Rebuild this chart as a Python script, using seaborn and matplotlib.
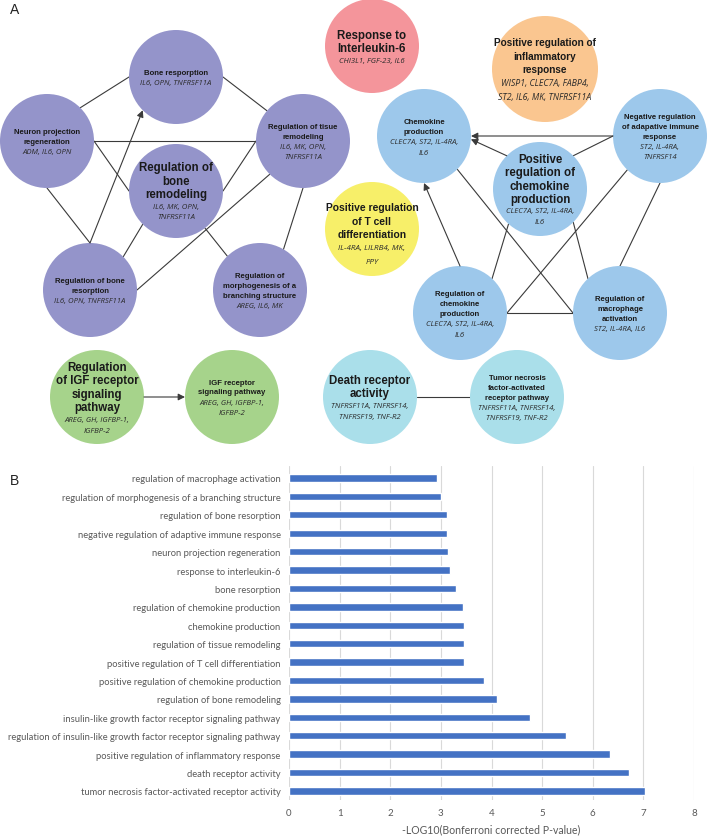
import numpy as np
import pandas as pd
import matplotlib
matplotlib.use("Agg")
import matplotlib.pyplot as plt
from matplotlib.patches import Circle, FancyArrowPatch
import seaborn as sns

# ---------------- data: panel B ----------------
terms = [
    "regulation of macrophage activation",
    "regulation of morphogenesis of a branching structure",
    "regulation of bone resorption",
    "negative regulation of adaptive immune response",
    "neuron projection regeneration",
    "response to interleukin-6",
    "bone resorption",
    "regulation of chemokine production",
    "chemokine production",
    "regulation of tissue remodeling",
    "positive regulation of T cell differentiation",
    "positive regulation of chemokine production",
    "regulation of bone remodeling",
    "insulin-like growth factor receptor signaling pathway",
    "regulation of insulin-like growth factor receptor signaling pathway",
    "positive regulation of inflammatory response",
    "death receptor activity",
    "tumor necrosis factor-activated receptor activity",
]
neg_log10_p = [2.92, 3.00, 3.13, 3.13, 3.15, 3.19, 3.29, 3.43, 3.45, 3.46, 3.46,
               3.85, 4.10, 4.77, 5.47, 6.35, 6.72, 7.03]
x_ticks = [0, 1, 2, 3, 4, 5, 6, 7, 8]
x_label = "-LOG10(Bonferroni corrected P-value)"

# ---------------- data: panel A network ----------------
node_ids = ["boneres", "neuron", "tissue", "boneremod", "regbr", "morph",
            "il6", "inflam", "chemprod", "negadapt", "posreg", "tcell",
            "regchem", "macro", "regigf", "igf", "death", "tnf"]
node_titles = [
    ["Bone resporption"],
    ["Neuron projection", "regeneration"],
    ["Regulation of tisue", "remodeling"],
    ["Regulation of", "bone", "remodeling"],
    ["Regulation of bone", "resorption"],
    ["Regulation of", "morphogenesis of a", "branching structure"],
    ["Response to", "Interleukin-6"],
    ["Positive regulation of", "inflammatory", "response"],
    ["Chemokine", "production"],
    ["Negative regulation", "of adapative immune", "response"],
    ["Positive", "regulation of", "chemokine", "production"],
    ["Positive regulation", "of T cell", "differentiation"],
    ["Regulation of", "chemokine", "production"],
    ["Regulation of", "macrophage", "activation"],
    ["Regulation", "of IGF receptor", "signaling", "pathway"],
    ["IGF receptor", "signaling pathway"],
    ["Death receptor", "activity"],
    ["Tumor necrosis", "factor-activated", "receptor pathway"],
]
node_genes = [
    ["IL6, OPN, TNFRSF11A"],
    ["ADM, IL6, OPN"],
    ["IL6, MK, OPN,", "TNFRSF11A"],
    ["IL6, MK, OPN,", "TNFRSF11A"],
    ["IL6, OPN, TNFRSF11A"],
    ["AREG, IL6, MK"],
    ["CHI3L1, FGF-23, IL6"],
    ["WISP1, CLEC7A, FABP4,", "ST2, IL6, MK, TNFRSF11A"],
    ["CLEC7A, ST2, IL-4RA,", "IL6"],
    ["ST2, IL-4RA,", "TNFRSF14"],
    ["CLEC7A, ST2, IL-4RA,", "IL6"],
    ["IL-4RA, LILRB4, MK,", "PPY"],
    ["CLEC7A, ST2, IL-4RA,", "IL6"],
    ["ST2, IL-4RA, IL6"],
    ["AREG, GH, IGFBP-1,", "IGFBP-2"],
    ["AREG, GH, IGFBP-1,", "IGFBP-2"],
    ["TNFRSF11A, TNFRSF14,", "TNFRSF19, TNF-R2"],
    ["TNFRSF11A, TNFRSF14,", "TNFRSF19, TNF-R2"],
]
# edges: (source, target, directed)
edges = [
    ("neuron", "boneres", False),
    ("boneres", "tissue", False),
    ("neuron", "tissue", False),
    ("neuron", "boneremod", False),
    ("neuron", "regbr", False),
    ("regbr", "boneres", True),
    ("regbr", "boneremod", False),
    ("regbr", "tissue", False),
    ("boneremod", "tissue", False),
    ("boneremod", "morph", False),
    ("tissue", "morph", False),
    ("negadapt", "chemprod", True),
    ("posreg", "chemprod", True),
    ("posreg", "negadapt", False),
    ("regchem", "chemprod", True),
    ("chemprod", "macro", False),
    ("posreg", "regchem", False),
    ("posreg", "macro", False),
    ("negadapt", "regchem", False),
    ("negadapt", "macro", False),
    ("regchem", "macro", False),
    ("regigf", "igf", True),
    ("death", "tnf", False),
]

# ---------------- layout / style (pixel coordinates) ----------------
W, H = 709, 837
PURPLE, RED, ORANGE, BLUE = "#9494CA", "#F4959B", "#FAC690", "#9DC8EB"
YELLOW, GREEN, CYAN = "#F7EF69", "#A6D38B", "#AADFEA"
# cx, cy, r, colour, title size, title line h, gene size, gene line h, first line y
layout = {
    "boneres":   (176, 78, 47, PURPLE, 5.6, 10, 5.6, 10.5, 73),
    "neuron":    (47, 142, 47, PURPLE, 5.6, 10, 5.6, 10.5, 132),
    "tissue":    (303, 142, 47, PURPLE, 5.6, 10, 5.6, 10.5, 127),
    "boneremod": (176, 192, 47, PURPLE, 8.3, 13.5, 5.6, 10.5, 168),
    "regbr":     (90, 291, 47, PURPLE, 5.6, 10, 5.6, 10.5, 281),
    "morph":     (260, 291, 47, PURPLE, 5.6, 10, 5.6, 10.5, 276),
    "il6":       (372, 47, 47, RED, 8.3, 13.2, 5.6, 12, 36),
    "inflam":    (545, 70, 53, ORANGE, 7.2, 13.5, 6.3, 14, 43),
    "chemprod":  (424, 137, 47, BLUE, 5.6, 10, 5.6, 10.8, 122),
    "negadapt":  (660, 137, 47, BLUE, 5.6, 10, 5.6, 10.5, 117),
    "posreg":    (540, 190, 47, BLUE, 8.3, 13.3, 5.6, 10.5, 160),
    "tcell":     (372, 230, 47, YELLOW, 7.4, 13.5, 5.8, 13.5, 208),
    "regchem":   (460, 314, 47, BLUE, 5.6, 10, 5.6, 10.8, 294),
    "macro":     (620, 314, 47, BLUE, 5.6, 10, 5.6, 10.5, 299),
    "regigf":    (97, 398, 47, GREEN, 8.3, 13.3, 5.6, 11, 368),
    "igf":       (232, 398, 47, GREEN, 5.6, 10, 5.6, 10.5, 383),
    "death":     (370, 398, 47, CYAN, 8.3, 13.5, 5.6, 11, 381),
    "tnf":       (517, 398, 47, CYAN, 5.6, 10, 5.6, 10.5, 378),
}
# anchor angles (degrees, image coords: y down) for edge endpoints
anchors = [
    (-45, 180), (0, -140), (0, 180), (0, 180), (90, -90), (-90, 135),
    (-45, 135), (0, 135), (0, 180), (52, -134), (90, -60),
    (180, 0), (-135, 4), (-45, 180), (-90, 90), (45, 180), (132, -47),
    (45, -133), (134, 0), (90, -90), (0, 180),
    (0, 180), (0, 180),
]

sns.set_theme(style="white")
plt.rcParams["font.family"] = ["Liberation Sans", "DejaVu Sans"]

fig = plt.figure(figsize=(W / 100, H / 100), dpi=100)
axA = fig.add_axes([0, 0, 1, 1])
axA.set_xlim(0, W)
axA.set_ylim(H, 0)
axA.set_aspect("equal")
axA.axis("off")

def pt(nid, ang):
    cx, cy, r = layout[nid][:3]
    a = np.deg2rad(ang)
    return (cx + r * np.cos(a), cy + r * np.sin(a))

edge_col = "#3a3a3a"
for (s, t, directed), (a1, a2) in zip(edges, anchors):
    p1, p2 = pt(s, a1), pt(t, a2)
    if directed:
        arr = FancyArrowPatch(p1, p2, arrowstyle="-|>,head_length=4,head_width=2",
                              color=edge_col, lw=0.8, zorder=3,
                              shrinkA=0, shrinkB=0, mutation_scale=1)
        axA.add_patch(arr)
    else:
        axA.plot([p1[0], p2[0]], [p1[1], p2[1]], color=edge_col, lw=0.8, zorder=1)

for nid, titles, genes in zip(node_ids, node_titles, node_genes):
    cx, cy, r, col, tsize, t_lh, g_size, g_lh, y0 = layout[nid]
    axA.add_patch(Circle((cx, cy), r, facecolor=col, edgecolor="none", zorder=2))
    y = y0
    for line in titles:
        axA.text(cx, y, line, ha="center", va="center", fontsize=tsize,
                 fontweight="bold", color="#1a1a1a", zorder=4,
                 family=["Liberation Sans", "DejaVu Sans"])
        y += t_lh
    y += (g_lh - t_lh) / 2
    for line in genes:
        axA.text(cx, y, line, ha="center", va="center", fontsize=g_size,
                 style="italic", color="#2a2a2a", zorder=4,
                 family=["Open Sans", "DejaVu Sans"])
        y += g_lh

axA.text(10, 10, "A", fontsize=10, ha="left", va="center", color="#222222")
axA.text(10, 481, "B", fontsize=10, ha="left", va="center", color="#222222")

# ---------------- panel B ----------------
top_px, bot_px = 467, 801
left_px, right_px = 289, 694
axB = fig.add_axes([left_px / W, 1 - bot_px / H, (right_px - left_px) / W,
                    (bot_px - top_px) / H])
df = pd.DataFrame({"term": terms, "value": neg_log10_p})
sns.barplot(data=df, x="value", y="term", orient="h", color="#4472C4",
            width=0.4, saturation=1, ax=axB, zorder=3)
axB.set_xlim(0, 8)
axB.set_ylim(17.49, -0.65)
axB.set_xticks(x_ticks)
axB.set_xticklabels([str(v) for v in x_ticks])
axB.grid(axis="x", color="#d9d9d9", lw=0.8, zorder=0)
axB.grid(axis="y", visible=False)
for sp in axB.spines.values():
    sp.set_visible(False)
lblfont = ["Lato", "Liberation Sans", "DejaVu Sans"]
axB.tick_params(axis="both", length=0, colors="#595959", pad=6)
for lab in axB.get_yticklabels():
    lab.set_family(lblfont)
    lab.set_fontsize(6.75)
    lab.set_color("#595959")
for lab in axB.get_xticklabels():
    lab.set_family(lblfont)
    lab.set_fontsize(7.0)
    lab.set_color("#595959")
axB.set_ylabel("")
axB.set_xlabel(x_label, fontsize=7.6, color="#595959", family=lblfont, labelpad=4)

fig.savefig("out.png", dpi=100)
